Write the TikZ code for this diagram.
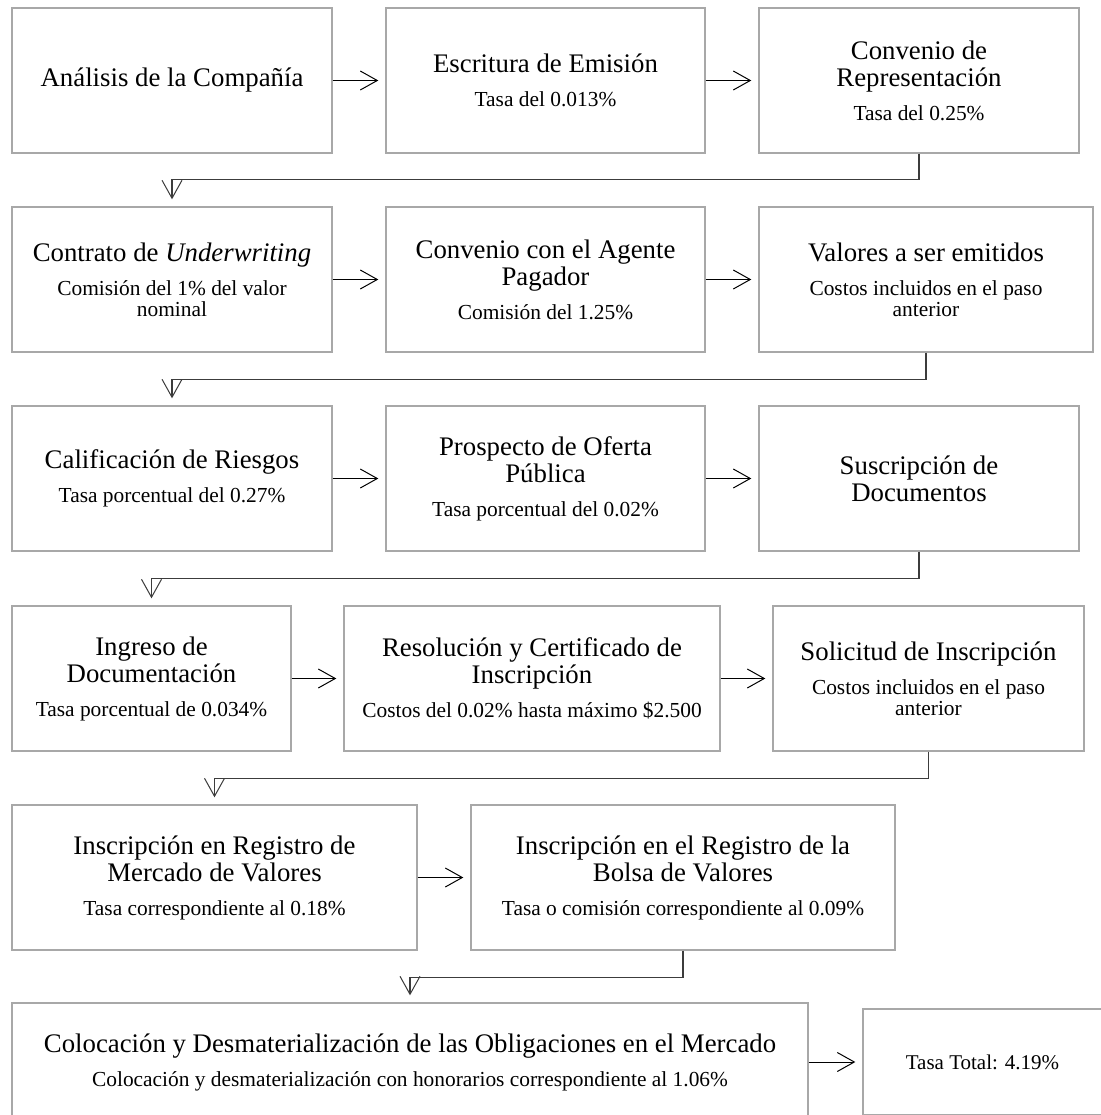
\documentclass[tikz,border=0pt]{standalone}
\usepackage{fontspec}
\setmainfont{Liberation Serif}
\usetikzlibrary{arrows.meta}
\definecolor{boxgray}{RGB}{168,168,168}
\definecolor{linegray}{RGB}{60,60,60}
\newcommand{\boxtitle}[1]{{\centering\spaceskip=0pt\xspaceskip=0pt\lineskiplimit=-50pt\fontsize{26.8}{27}\selectfont #1\par}}
\newcommand{\boxsub}[1]{\vspace{13pt}{\centering\spaceskip=0pt\xspaceskip=0pt\lineskiplimit=-50pt\fontsize{21.4}{21}\selectfont #1\par}}
\begin{document}
\begin{tikzpicture}[x=1pt,y=-1pt,
  stepbox/.style 2 args={draw=boxgray, line width=1.4pt, fill=white, rectangle,
    inner sep=0pt, text width=#1pt, minimum height=#2pt},
  flow/.style={draw=black, line width=1pt, shorten >=7pt,
    -{Straight Barb[length=17pt,width=19pt,line width=1pt]}},
  elbow/.style={draw=linegray, line width=1.3pt, shorten >=7pt,
    -{Straight Barb[length=18pt,width=20pt,line width=1pt]}}]
\useasboundingbox (0,0) rectangle (1100,1115);
\fill[white] (0,0) rectangle (1100,1115);
% Row 1
\node[stepbox={320}{145}] (a1) at (172,80.5) {\boxtitle{Análisis de la Compañía}};
\node[stepbox={319}{145}] (a2) at (545.5,80.5) {\boxtitle{Escritura de Emisión}\boxsub{Tasa del 0.013\%}};
\node[stepbox={320}{145}] (a3) at (919,80.5) {\boxtitle{Convenio de\\Representación}\boxsub{Tasa del 0.25\%}};
% Row 2
\node[stepbox={320}{145}] (b1) at (172,279.5) {\boxtitle{Contrato de \textit{Underwriting}}\boxsub{Comisión del 1\% del valor\\nominal}};
\node[stepbox={319}{145}] (b2) at (545.5,279.5) {\boxtitle{Convenio con el Agente\\Pagador}\boxsub{Comisión del 1.25\%}};
\node[stepbox={334}{145}] (b3) at (926,279.5) {\boxtitle{Valores a ser emitidos}\boxsub{Costos incluidos en el paso\\anterior}};
% Row 3
\node[stepbox={320}{145}] (c1) at (172,478.5) {\boxtitle{Calificación de Riesgos}\boxsub{Tasa porcentual del 0.27\%}};
\node[stepbox={319}{145}] (c2) at (545.5,478.5) {\boxtitle{Prospecto de Oferta\\Pública}\boxsub{Tasa porcentual del 0.02\%}};
\node[stepbox={320}{145}] (c3) at (919,478.5) {\boxtitle{Suscripción de\\Documentos}};
% Row 4
\node[stepbox={279}{145}] (d1) at (151.5,678.5) {\boxtitle{Ingreso de\\Documentación}\boxsub{Tasa porcentual de 0.034\%}};
\node[stepbox={376}{145}] (d2) at (532,678.5) {\boxtitle{Resolución y Certificado de\\Inscripción}\boxsub{Costos del 0.02\% hasta máximo \$2.500}};
\node[stepbox={311}{145}] (d3) at (928.5,678.5) {\boxtitle{Solicitud de Inscripción}\boxsub{Costos incluidos en el paso\\anterior}};
% Row 5
\node[stepbox={405}{145}] (e1) at (214.5,877.5) {\boxtitle{Inscripción en Registro de\\Mercado de Valores}\boxsub{Tasa correspondiente al 0.18\%}};
\node[stepbox={424}{145}] (e2) at (683,877.5) {\boxtitle{Inscripción en el Registro de la\\Bolsa de Valores}\boxsub{Tasa o comisión correspondiente al 0.09\%}};
% Row 6
\node[stepbox={796}{118}] (f1) at (410,1062) {\boxtitle{Colocación y Desmaterialización de las Obligaciones en el Mercado}\boxsub{Colocación y desmaterialización con honorarios correspondiente al 1.06\%}};
\node[stepbox={239}{106}] (g1) at (982.5,1062) {{\centering\spaceskip=0pt\xspaceskip=0pt\fontsize{21}{21}\selectfont Tasa Total: 4.19\%\par}};
% Straight arrows
\draw[flow] (a1.east) -- (a2.west);
\draw[flow] (a2.east) -- (a3.west);
\draw[flow] (b1.east) -- (b2.west);
\draw[flow] (b2.east) -- (b3.west);
\draw[flow] (c1.east) -- (c2.west);
\draw[flow] (c2.east) -- (c3.west);
\draw[flow] (d1.east) -- (d2.west);
\draw[flow] (d2.east) -- (d3.west);
\draw[flow] (e1.east) -- (e2.west);
\draw[flow] (f1.east) -- (g1.west);
% Elbow connectors
\draw[elbow] (a3.south) -- ++(0,26) -| (b1.north);
\draw[elbow] (b3.south) -- ++(0,27) -| (c1.north);
\draw[elbow] (c3.south) -- ++(0,27) -| (d1.north);
\draw[elbow] (d3.south) -- ++(0,27) -| (e1.north);
\draw[elbow] (e2.south) -- ++(0,27) -| (f1.north);
\end{tikzpicture}
\end{document}
